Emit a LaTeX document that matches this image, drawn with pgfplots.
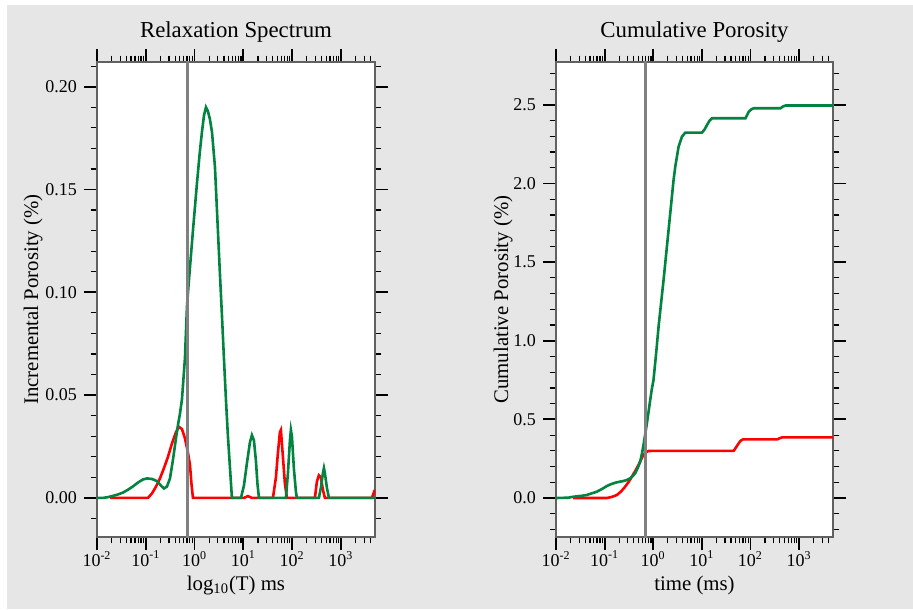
\documentclass[border=0pt]{standalone}
\usepackage{fontspec}
\setmainfont{Liberation Serif}
\usepackage{pgfplots}
\usepackage{pgfplotstable}
\pgfplotsset{compat=1.18}

\definecolor{bggray}{HTML}{E6E6E6}
\definecolor{nmrgreen}{HTML}{00843F}
\definecolor{nmrred}{HTML}{FF0000}
\definecolor{cutgray}{HTML}{808080}

% incremental porosity, x = log10(T/ms)
\pgfplotstableread{
lx v
-2.000 0
-1.877 0
-1.775 0.0004
-1.672 0.0010
-1.570 0.0017
-1.467 0.0026
-1.365 0.0040
-1.262 0.0056
-1.160 0.0075
-1.057 0.0090
-0.975 0.0095
-0.873 0.0092
-0.770 0.0082
-0.689 0.0060
-0.627 0.0046
-0.566 0.0055
-0.504 0.0095
-0.443 0.0185
-0.381 0.0290
-0.340 0.0355
-0.299 0.0410
-0.258 0.0480
-0.197 0.0680
-0.156 0.0930
-0.115 0.1060
-0.033 0.1300
0.049 0.1530
0.111 0.1690
0.152 0.1780
0.193 0.1860
0.234 0.1900
0.275 0.1880
0.316 0.1840
0.357 0.1780
0.418 0.1610
0.459 0.1400
0.520 0.1090
0.561 0.0890
0.602 0.0680
0.643 0.0480
0.684 0.0300
0.725 0.0150
0.766 0
0.951 0
1.012 0.0060
1.074 0.0170
1.135 0.0270
1.176 0.0305
1.217 0.0280
1.258 0.0180
1.289 0.0070
1.320 0
1.873 0
1.914 0.0120
1.955 0.0280
1.975 0.0330
1.996 0.0300
2.037 0.0140
2.078 0.0030
2.098 0
2.549 0
2.590 0.0050
2.631 0.0120
2.652 0.0145
2.672 0.0120
2.713 0.0050
2.754 0
3.699 0
}\incgreen

\pgfplotstableread{
lx v
-1.730 0
-0.955 0
-0.873 0.0022
-0.791 0.0055
-0.709 0.0095
-0.627 0.0145
-0.545 0.0200
-0.463 0.0265
-0.381 0.0320
-0.320 0.0346
-0.258 0.0335
-0.197 0.0290
-0.135 0.0220
-0.094 0.0160
-0.064 0.0070
-0.033 0
1.012 0
1.094 0.0009
1.176 0
1.607 0
1.668 0.0100
1.709 0.0220
1.750 0.0320
1.770 0.0330
1.811 0.0200
1.852 0.0070
1.893 0
2.467 0
2.508 0.0080
2.549 0.0110
2.590 0.0100
2.631 0.0040
2.672 0
3.635 0
3.697 0.0040
}\incred

% cumulative porosity
\pgfplotstableread{
lx v
-2.000 0
-1.750 0.002
-1.643 0.008
-1.500 0.013
-1.367 0.019
-1.260 0.030
-1.161 0.040
-1.050 0.058
-0.955 0.076
-0.870 0.088
-0.784 0.097
-0.700 0.103
-0.612 0.108
-0.540 0.115
-0.474 0.125
-0.420 0.140
-0.371 0.157
-0.320 0.190
-0.268 0.231
-0.230 0.285
-0.200 0.337
-0.165 0.405
-0.130 0.475
-0.095 0.550
-0.062 0.623
-0.030 0.690
0.006 0.751
0.060 0.920
0.110 1.090
0.213 1.387
0.316 1.705
0.419 2.023
0.454 2.108
0.522 2.235
0.591 2.298
0.660 2.324
1.003 2.324
1.060 2.345
1.107 2.373
1.160 2.400
1.210 2.415
1.897 2.415
1.930 2.435
1.966 2.457
2.020 2.472
2.069 2.479
2.619 2.479
2.670 2.490
2.722 2.496
3.699 2.496
}\cumgreen

\pgfplotstableread{
lx v
-1.650 0
-0.955 0
-0.850 0.007
-0.748 0.019
-0.660 0.042
-0.577 0.072
-0.500 0.105
-0.439 0.136
-0.370 0.172
-0.303 0.210
-0.250 0.245
-0.200 0.274
-0.150 0.291
-0.097 0.299
0.076 0.300
1.656 0.300
1.710 0.325
1.759 0.348
1.800 0.365
1.849 0.373
2.550 0.373
2.600 0.380
2.654 0.386
3.699 0.386
}\cumred

\pgfplotsset{
  nmrpanel/.style={
    scale only axis,
    height=237.5pt,
    xmin=-2, xmax=3.699,
    xtick={-2,-1,0,1,2,3},
    xticklabels={10\textsuperscript{-2},10\textsuperscript{-1},10\textsuperscript{0},
                 10\textsuperscript{1},10\textsuperscript{2},10\textsuperscript{3}},
    minor xtick={-1.699,-1.523,-1.398,-1.301,-1.222,-1.155,-1.097,-1.046,
                 -0.699,-0.523,-0.398,-0.301,-0.222,-0.155,-0.097,-0.046,
                 0.301,0.477,0.602,0.699,0.778,0.845,0.903,0.954,
                 1.301,1.477,1.602,1.699,1.778,1.845,1.903,1.954,
                 2.301,2.477,2.602,2.699,2.778,2.845,2.903,2.954,
                 3.301,3.477,3.602},
    tick align=outside,
    major tick length=6.5pt,
    minor tick length=3.2pt,
    every major tick/.append style={black, line width=0.9pt},
    every minor tick/.append style={black, line width=0.6pt},
    axis line style={black!62, line width=1pt},
    axis background/.style={fill=white},
    tick label style={font=\fontsize{9}{10}\selectfont},
    xticklabel style={yshift=3pt},
    label style={font=\fontsize{10.4}{12}\selectfont},
    title style={font=\fontsize{11.4}{13}\selectfont,
                 at={(axis description cs:0.5,1.0273)}, anchor=base, yshift=0pt},
    xlabel style={at={(axis description cs:0.5,-0.1116)}, anchor=base},
    /pgf/number format/assume math mode=true,
    /pgf/number format/fixed,
    /pgf/number format/fixed zerofill,
  },
}

\begin{document}
\begin{tikzpicture}
\path[use as bounding box, fill=white] (0,0) rectangle (456.5pt,304.5pt);
\fill[bggray] (3.5pt,0) rectangle (456.5pt,302pt);

% left: relaxation spectrum
\begin{axis}[nmrpanel,
  at={(48.5pt,36pt)}, anchor=south west,
  width=139pt,
  ymin=-0.019, ymax=0.212,
  ytick={0,0.05,0.10,0.15,0.20},
  minor ytick={-0.01,0,...,0.21},
  /pgf/number format/precision=2,
  title={Relaxation Spectrum},
  xlabel={log\textsubscript{10}(T) ms},
  ylabel={Incremental Porosity (\%)},
  ylabel style={at={(axis description cs:-0.212,0.5)}, anchor=base},
]
\addplot[nmrred, line width=1.3pt] table[x=lx, y=v] {\incred};
\addplot[nmrgreen, line width=1.3pt] table[x=lx, y=v] {\incgreen};
\addplot[cutgray, line width=1.5pt] coordinates {(-0.15,-0.05) (-0.15,0.3)};
\end{axis}

% right: cumulative porosity
\begin{axis}[nmrpanel,
  at={(278pt,36pt)}, anchor=south west,
  width=138.5pt,
  ymin=-0.248, ymax=2.773,
  ytick={0,0.5,1.0,1.5,2.0,2.5},
  minor ytick={-0.2,-0.1,...,2.7},
  /pgf/number format/precision=1,
  title={Cumulative Porosity},
  xlabel={time (ms)},
  ylabel={Cumulative Porosity (\%)},
  ylabel style={at={(axis description cs:-0.173,0.5)}, anchor=base},
]
\addplot[nmrred, line width=1.3pt] table[x=lx, y=v] {\cumred};
\addplot[nmrgreen, line width=1.3pt] table[x=lx, y=v] {\cumgreen};
\addplot[cutgray, line width=1.5pt] coordinates {(-0.15,-0.5) (-0.15,3)};
\end{axis}
\end{tikzpicture}
\end{document}
